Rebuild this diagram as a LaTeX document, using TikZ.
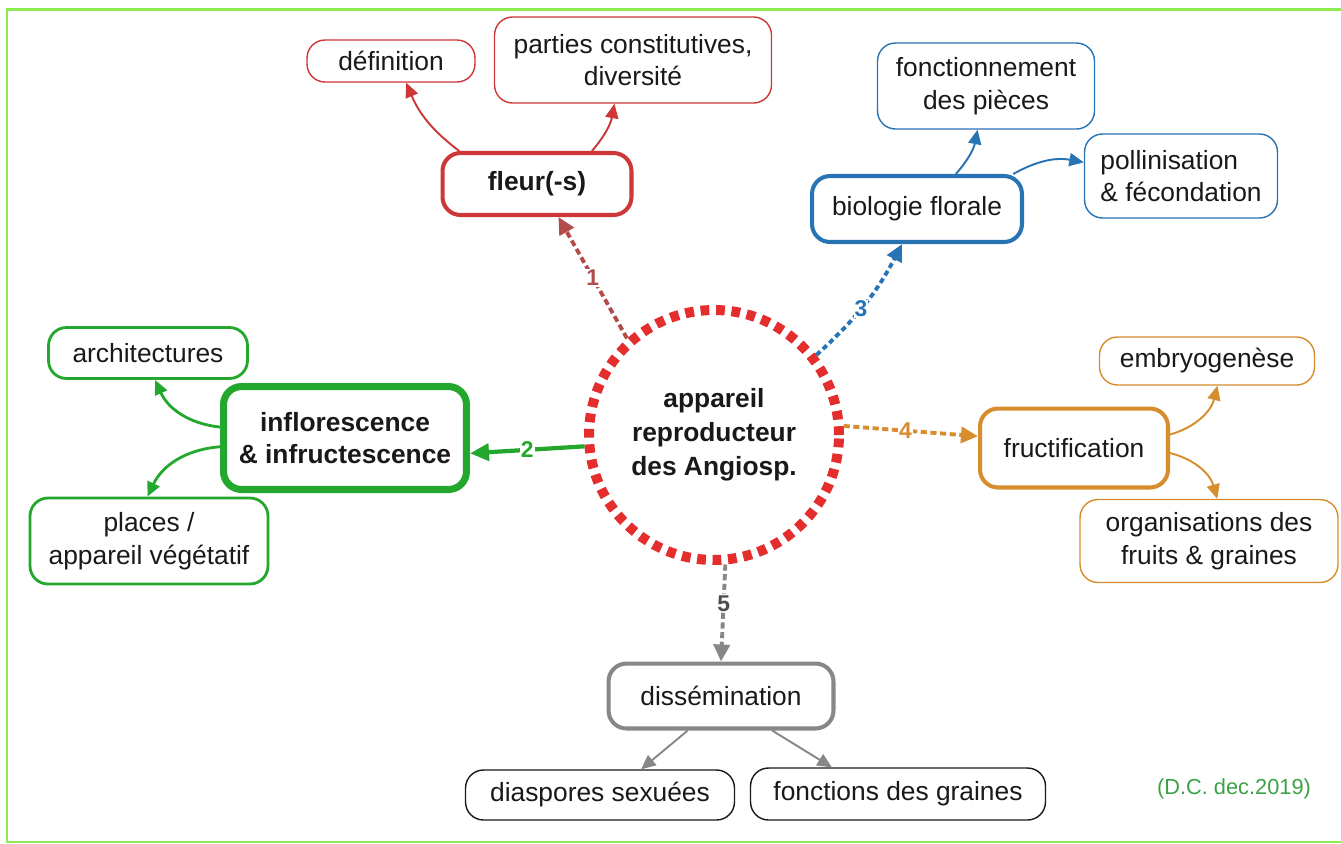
\documentclass[tikz,border=0pt]{standalone}
\usepackage{fontspec}
\setmainfont{Liberation Sans}
\usetikzlibrary{positioning}
\usetikzlibrary{arrows.meta}
\definecolor{coreRed}{RGB}{228,45,45}
\definecolor{redBox}{RGB}{205,55,55}
\definecolor{redLink}{RGB}{180,75,75}
\definecolor{blueBox}{RGB}{40,115,180}
\definecolor{greenBox}{RGB}{35,168,45}
\definecolor{orangeBox}{RGB}{215,140,45}
\definecolor{grayBox}{RGB}{135,135,135}
\definecolor{frameGreen}{RGB}{140,235,80}
\definecolor{creditGreen}{RGB}{60,160,70}
\definecolor{txt}{RGB}{25,25,25}
\tikzstyle{box} = [rectangle, rounded corners=0.36cm,
text centered,
align=center,
fill=white,
text=txt,
font=\fontsize{15}{18.5}\selectfont]
\tikzstyle{arrow} = [line width=1.1pt,-{Triangle[length=0.29cm, width=0.26cm]}]

\begin{document}
\begin{tikzpicture}[x=0.02cm, y=-0.02cm,
    leaf/.style={box, line width=0.8pt},
    hub/.style={box, line width=2.3pt},
    link/.style={line width=2.2pt, dash pattern=on 3.5pt off 2pt, -{Triangle[length=0.34cm, width=0.32cm]}},
    num/.style={fill=white, inner sep=0.6pt, font=\fontsize{13}{13}\selectfont\bfseries}
]
    \useasboundingbox (0,0) rectangle (1341,843);
    \draw[frameGreen, line width=1.2pt] (1341,9.5) -| (7,842) -- (1341,842);

    \node[circle, draw=coreRed, line width=5.7pt, dash pattern=on 5pt off 3.8pt, minimum size=5cm,
        align=center, text=txt, font=\fontsize{15}{19.3}\selectfont\bfseries] (core) at (714,435) {appareil\\reproducteur\\des Angiosp.};

    \node[hub, draw=redBox, font=\fontsize{15}{18.5}\selectfont\bfseries, minimum width=3.78cm, minimum height=1.24cm] (fleur) at (537,184) {fleur(-s)};
    \node[leaf, draw=redBox, minimum width=3.36cm, minimum height=0.84cm] (definition) at (391,61) {définition};
    \node[leaf, draw=redBox, minimum width=5.54cm, minimum height=1.72cm] (parties) at (633,60) {parties constitutives,\\diversité};

    \node[hub, draw=blueBox, minimum width=4.2cm, minimum height=1.32cm] (biologie) at (917,209) {biologie florale};
    \node[leaf, draw=blueBox, minimum width=4.34cm, minimum height=1.72cm] (fonctionnement) at (986,86) {fonctionnement\\des pièces};
    \node[leaf, draw=blueBox, align=left, minimum width=3.86cm, minimum height=1.68cm] (pollinisation) at (1181,176) {pollinisation\\\& fécondation};

    \node[box, draw=greenBox, line width=4pt, font=\fontsize{15}{18.5}\selectfont\bfseries, minimum width=4.86cm, minimum height=2.06cm] (inflo) at (345,438) {inflorescence\\\& infructescence};
    \node[box, draw=greenBox, line width=1.6pt, minimum width=3.98cm, minimum height=1.02cm] (archi) at (148,353) {architectures};
    \node[box, draw=greenBox, line width=1.6pt, minimum width=4.76cm, minimum height=1.72cm] (places) at (149,541) {places /\\appareil végétatif};

    \node[hub, draw=orangeBox, minimum width=3.76cm, minimum height=1.58cm] (fructi) at (1074,448) {fructification};
    \node[leaf, draw=orangeBox, minimum width=4.3cm, minimum height=0.96cm] (embryo) at (1207,361) {embryogenèse};
    \node[leaf, draw=orangeBox, minimum width=5.16cm, minimum height=1.66cm] (organi) at (1209,541) {organisations des\\fruits \& graines};

    \node[hub, draw=grayBox, minimum width=4.5cm, minimum height=1.3cm] (dissem) at (721,696) {dissémination};
    \node[leaf, draw=txt, minimum width=5.38cm, minimum height=1.0cm] (diaspores) at (600,795) {diaspores sexuées};
    \node[leaf, draw=txt, minimum width=5.9cm, minimum height=1.04cm] (graines) at (898,794) {fonctions des graines};

    \node[text=creditGreen, font=\fontsize{12.4}{14}\selectfont] (credit) at (1234,789) {(D.C. dec.2019)};

    \draw[link, redLink] (core.132) -- node[num, text=redLink] {1} (fleur.303);
    \draw[line width=2.4pt, greenBox, -{Triangle[length=0.38cm, width=0.34cm]}] (core.185) -- node[num, text=greenBox] {2} (inflo.353);
    \draw[link, blueBox, dash pattern=on 3pt off 2pt] (core.38) to[bend right=10] node[num, text=blueBox, pos=0.45] {3} (biologie.247);
    \draw[link, orangeBox] (core.4) -- node[num, text=orangeBox, pos=0.46] {4} (fructi.173);
    \draw[link, grayBox] (core.275) -- node[num, text=black!70, pos=0.4] {5} (dissem.north);

    \draw[arrow, redBox] (fleur.157) to[bend left=15] (definition.305);
    \draw[arrow, redBox] (fleur.31) to[bend right=15] (parties.247);
    \draw[arrow, blueBox] (biologie.42) to[bend right=15] (fonctionnement.259);
    \draw[arrow, blueBox] (biologie.20) to[bend left=20] (pollinisation.172);
    \draw[arrow, greenBox, line width=1.6pt] (inflo.175) to[bend left=30] (archi.285);
    \draw[arrow, greenBox, line width=1.6pt] (inflo.184) to[bend right=30] (places.92);
    \draw[arrow, orangeBox] (fructi.8) to[bend right=30] (embryo.293);
    \draw[arrow, orangeBox] (fructi.357) to[bend left=30] (organi.79);
    \draw[arrow, grayBox] (dissem.226) -- (diaspores.32);
    \draw[arrow, grayBox] (dissem.326) -- (graines.158);
\end{tikzpicture}
\end{document}
